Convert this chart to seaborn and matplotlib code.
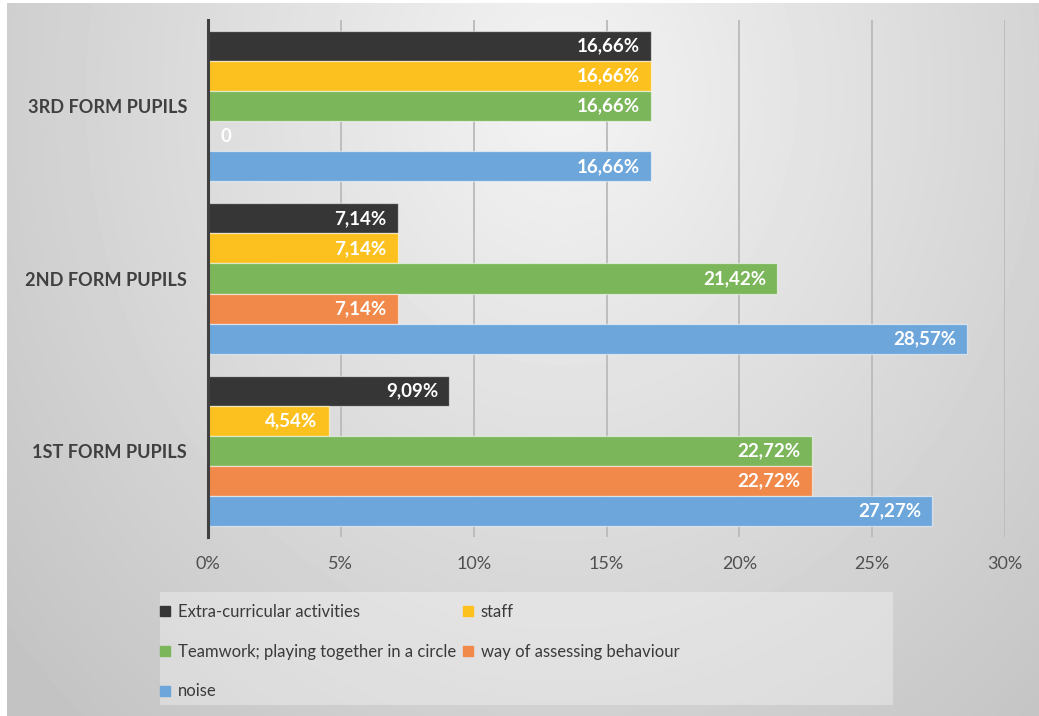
import numpy as np
import pandas as pd
import matplotlib
matplotlib.use("Agg")
import matplotlib.pyplot as plt
from matplotlib.lines import Line2D
from matplotlib.patches import Rectangle
import seaborn as sns

# Survey shares (%) per form and reason
forms = ["3RD FORM PUPILS", "2ND FORM PUPILS", "1ST FORM PUPILS"]
reasons = ["Extra-curricular activities", "staff",
           "Teamwork; playing together in a circle",
           "way of assessing behaviour", "noise"]
extra_curricular = [16.66, 7.14, 9.09]
staff = [16.66, 7.14, 4.54]
teamwork = [16.66, 21.42, 22.72]
assessing = [0.0, 7.14, 22.72]
noise = [16.66, 28.57, 27.27]
x_ticks = [0, 5, 10, 15, 20, 25, 30]

colors = ["#363636", "#fdc11f", "#7cb65a", "#f0894a", "#6da6da"]

series = [extra_curricular, staff, teamwork, assessing, noise]
df = pd.DataFrame(
    [(f, r, vals[i]) for r, vals in zip(reasons, series) for i, f in enumerate(forms)],
    columns=["form", "reason", "value"],
)

sns.set_theme(style="white")
plt.rcParams["font.family"] = ["Lato", "DejaVu Sans"]

W, H = 1039, 716
fig = plt.figure(figsize=(W / 100, H / 100), dpi=100)
fig.patch.set_facecolor("white")

# soft radial grey backdrop
bg = fig.add_axes([7 / W, 0, 1 - 7 / W, 1 - 3 / H], zorder=-10)
yy, xx = np.mgrid[0:713, 0:1032]
r = np.sqrt(((xx - 555) / 620.0) ** 2 + ((yy - 90) / 720.0) ** 2)
shade = 0.955 - 0.16 * np.clip(r, 0, 1.2)
bg.imshow(shade, cmap="gray", vmin=0, vmax=1, aspect="auto",
          interpolation="bilinear")
bg.axis("off")

ax = fig.add_axes([208 / W, 1 - 537 / H, 797 / W, 517 / H])
ax.set_facecolor("none")

sns.barplot(data=df, y="form", x="value", hue="reason", order=forms,
            hue_order=reasons, palette=colors, orient="h", width=0.872,
            edgecolor=(1, 1, 1, 0.55), linewidth=0.9, saturation=1,
            legend=False, ax=ax, zorder=3)

ax.set_xlim(0, 30)
ax.set_ylim(2.5, -0.5)
ax.set_xticks(x_ticks)
ax.set_xticklabels([f"{t}%" for t in x_ticks])
ax.set_xlabel("")
ax.set_ylabel("")
ax.grid(axis="x", color="#bdbdbd", linewidth=1.4, zorder=0)
ax.set_axisbelow(True)
for s in ["top", "right", "bottom"]:
    ax.spines[s].set_visible(False)
ax.spines["left"].set_color("#404040")
ax.spines["left"].set_linewidth(2.2)
ax.spines["left"].set_zorder(5)
ax.tick_params(axis="x", length=0, pad=14, labelsize=13, labelcolor="#505050")
ax.tick_params(axis="y", length=0, pad=15, labelsize=13.1, labelcolor="#404040")
for lbl in ax.get_yticklabels():
    lbl.set_fontweight("bold")

# value labels at the inner end of each bar
for container, vals in zip(ax.containers, series):
    for patch, v in zip(container.patches, vals):
        yc = patch.get_y() + patch.get_height() / 2
        if v == 0:
            ax.annotate("0", (0, yc), xytext=(9, 0), textcoords="offset points",
                        ha="left", va="center", color="white",
                        fontsize=13.5, fontweight="bold", zorder=6)
        else:
            txt = f"{v:.2f}".replace(".", ",") + "%"
            ax.annotate(txt, (v, yc), xytext=(-8, 0), textcoords="offset points",
                        ha="right", va="center", color="white",
                        fontsize=13.5, fontweight="bold", zorder=6)

# legend panel
fig.add_artist(Rectangle((160 / W, 1 - 705 / H), 733 / W, 113 / H,
                         transform=fig.transFigure, facecolor="white",
                         alpha=0.32, edgecolor="none", zorder=1))
handles = [Line2D([], [], marker="s", linestyle="none", markersize=7,
                  markerfacecolor=c, markeredgecolor=c) for c in colors]
order = [0, 2, 4, 1, 3]
leg = fig.legend([handles[i] for i in order], [reasons[i] for i in order],
                 ncol=2, loc="upper left",
                 bbox_to_anchor=(160 / W, 1 - 604 / H),
                 frameon=False, fontsize=12, handlelength=0.6,
                 handletextpad=0.45, columnspacing=0.45, labelspacing=1.42,
                 borderpad=0.0, borderaxespad=0.0)
for t in leg.get_texts():
    t.set_color("#3a3a3a")

fig.savefig("out.png", dpi=100)
